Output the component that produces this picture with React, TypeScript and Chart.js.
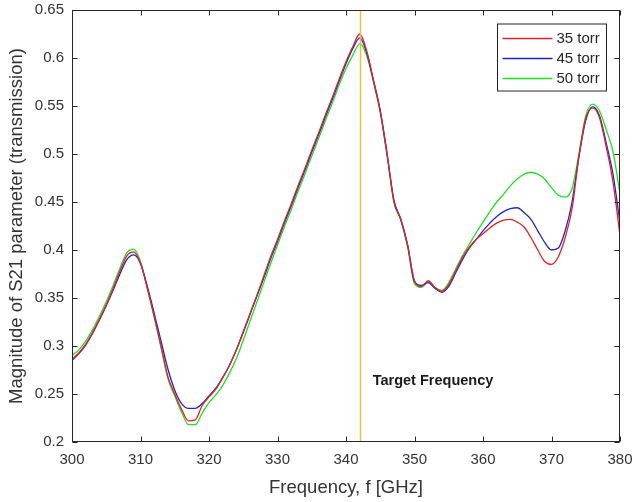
import React, { useEffect, useRef } from "react";
import { Chart, registerables } from "chart.js";

Chart.register(...registerables);

const freqs = [
  300, 301, 302, 303, 304, 305, 306, 307, 308, 309,
  310, 311, 312, 313, 314, 315, 316, 317, 318, 319,
  320, 321, 322, 323, 324, 325, 326, 327, 328, 329,
  330, 331, 332, 333, 334, 335, 336, 337, 338, 339,
  340, 341, 342, 343, 344, 345, 346, 347, 348, 349,
  350, 351, 352, 353, 354, 355, 356, 357, 358, 359,
  360, 361, 362, 363, 364, 365, 366, 367, 368, 369,
  370, 371, 372, 373, 374, 375, 376, 377, 378, 379,
  380,
];

const torr35 = [
  0.286, 0.293, 0.302, 0.314, 0.328, 0.343, 0.360, 0.378, 0.394, 0.398,
  0.386, 0.360, 0.331, 0.300, 0.268, 0.250, 0.234, 0.222, 0.223, 0.238,
  0.247, 0.255, 0.267, 0.280, 0.296, 0.315, 0.334, 0.353, 0.373, 0.393,
  0.411, 0.430, 0.448, 0.467, 0.485, 0.504, 0.522, 0.541, 0.559, 0.578,
  0.596, 0.612, 0.625, 0.608, 0.577, 0.545, 0.500, 0.450, 0.432, 0.405,
  0.368, 0.362, 0.368, 0.361, 0.357, 0.364, 0.378, 0.392, 0.403, 0.411,
  0.417, 0.423, 0.428, 0.431, 0.432, 0.429, 0.424, 0.413, 0.400, 0.388,
  0.385, 0.393, 0.413, 0.443, 0.497, 0.537, 0.548, 0.538, 0.507, 0.470,
  0.415,
];

const torr45 = [
  0.285, 0.292, 0.301, 0.313, 0.327, 0.342, 0.358, 0.375, 0.390, 0.395,
  0.386, 0.362, 0.334, 0.305, 0.276, 0.254, 0.240, 0.235, 0.235, 0.240,
  0.248, 0.256, 0.267, 0.280, 0.296, 0.314, 0.333, 0.352, 0.371, 0.391,
  0.409, 0.428, 0.446, 0.465, 0.483, 0.502, 0.520, 0.539, 0.557, 0.576,
  0.594, 0.610, 0.621, 0.606, 0.577, 0.545, 0.500, 0.452, 0.432, 0.405,
  0.367, 0.363, 0.366, 0.360, 0.356, 0.362, 0.376, 0.390, 0.402, 0.411,
  0.420, 0.428, 0.435, 0.440, 0.443, 0.444, 0.439, 0.432, 0.420, 0.408,
  0.400, 0.402, 0.420, 0.450, 0.497, 0.535, 0.549, 0.540, 0.511, 0.478,
  0.428,
];

const torr50 = [
  0.290, 0.296, 0.305, 0.317, 0.331, 0.346, 0.363, 0.381, 0.397, 0.401,
  0.388, 0.360, 0.330, 0.298, 0.266, 0.248, 0.231, 0.218, 0.218, 0.230,
  0.241, 0.249, 0.259, 0.272, 0.287, 0.306, 0.326, 0.346, 0.366, 0.386,
  0.405, 0.424, 0.442, 0.461, 0.479, 0.498, 0.516, 0.535, 0.553, 0.572,
  0.589, 0.603, 0.615, 0.603, 0.575, 0.543, 0.498, 0.450, 0.431, 0.403,
  0.365, 0.361, 0.367, 0.361, 0.358, 0.366, 0.380, 0.394, 0.406, 0.418,
  0.429, 0.440, 0.450, 0.458, 0.467, 0.474, 0.479, 0.481, 0.479, 0.474,
  0.465, 0.457, 0.455, 0.464, 0.500, 0.540, 0.552, 0.545, 0.525, 0.502,
  0.458,
];

const seriesLabels = ["35 torr", "45 torr", "50 torr"];
const seriesColors = ["#e0232a", "#2323c8", "#1fe01f"];

const xTicks = [300, 310, 320, 330, 340, 350, 360, 370, 380];
const yTicks = [0.2, 0.25, 0.3, 0.35, 0.4, 0.45, 0.5, 0.55, 0.6, 0.65];

const targetFreq = 342;
const targetLabel = "Target Frequency";
const targetLabelAt = [343.9, 0.2635];
const xTitle = "Frequency, f [GHz]";
const yTitle = "Magnitude of S21 parameter (transmission)";

const FONT = "'Liberation Sans', Arial, Helvetica, sans-serif";

const framePlugin = {
  id: "matlabFrame",
  afterDatasetsDraw(chart: any) {
    const { ctx, chartArea: a, scales } = chart;
    const x = scales.x;
    const y = scales.y;
    ctx.save();

    // target frequency line
    const tx = Math.round(x.getPixelForValue(targetFreq)) + 0.5;
    ctx.strokeStyle = "#ebc13c";
    ctx.lineWidth = 1.5;
    ctx.beginPath();
    ctx.moveTo(tx, a.top);
    ctx.lineTo(tx, a.bottom);
    ctx.stroke();

    // label
    ctx.fillStyle = "#1a1a1a";
    ctx.font = "bold 14.5px " + FONT;
    ctx.textAlign = "left";
    ctx.textBaseline = "middle";
    ctx.fillText(
      targetLabel,
      x.getPixelForValue(targetLabelAt[0]),
      y.getPixelForValue(targetLabelAt[1])
    );

    // box
    ctx.strokeStyle = "#262626";
    ctx.lineWidth = 1;
    const L = Math.round(a.left) + 0.5;
    const R = Math.round(a.right) - 0.5;
    const T = Math.round(a.top) + 0.5;
    const B = Math.round(a.bottom) - 0.5;
    ctx.strokeRect(L, T, R - L, B - T);

    // inward ticks
    const tl = 5;
    ctx.beginPath();
    xTicks.forEach((v) => {
      const px = Math.round(x.getPixelForValue(v)) + 0.5;
      ctx.moveTo(px, B);
      ctx.lineTo(px, B - tl);
      ctx.moveTo(px, T);
      ctx.lineTo(px, T + tl);
    });
    yTicks.forEach((v) => {
      const py = Math.round(y.getPixelForValue(v)) + 0.5;
      ctx.moveTo(L, py);
      ctx.lineTo(L + tl, py);
      ctx.moveTo(R, py);
      ctx.lineTo(R - tl, py);
    });
    ctx.stroke();

    // legend
    const lx = R - 122;
    const ly = T + 13.5;
    const lw = 109;
    const lh = 67;
    ctx.fillStyle = "#ffffff";
    ctx.fillRect(lx, ly, lw, lh);
    ctx.strokeStyle = "#262626";
    ctx.strokeRect(lx, ly, lw, lh);
    ctx.font = "15px " + FONT;
    ctx.textBaseline = "middle";
    chart.data.datasets.forEach((ds: any, i: number) => {
      const cy = Math.round(ly + 14 + i * 20) + 0.5;
      ctx.strokeStyle = ds.borderColor;
      ctx.lineWidth = 1.3;
      ctx.beginPath();
      ctx.moveTo(lx + 5, cy);
      ctx.lineTo(lx + 55, cy);
      ctx.stroke();
      ctx.fillStyle = "#262626";
      ctx.fillText(ds.label, lx + 59, cy);
    });

    ctx.restore();
  },
};

export default function App() {
  const ref = useRef<HTMLCanvasElement | null>(null);

  useEffect(() => {
    if (!ref.current) return;
    const series = [torr35, torr45, torr50];
    const chart = new Chart(ref.current, {
      type: "line",
      data: {
        datasets: series.map((vals, i) => ({
          label: seriesLabels[i],
          data: freqs.map((f, j) => ({ x: f, y: vals[j] })),
          borderColor: seriesColors[i],
          backgroundColor: seriesColors[i],
          borderWidth: 1.3,
          pointRadius: 0,
          cubicInterpolationMode: "monotone" as const,
          fill: false,
        })),
      },
      options: {
        responsive: false,
        animation: false,
        devicePixelRatio: 1,
        layout: { padding: { top: 10, right: 15, left: 0, bottom: 0 } },
        plugins: {
          legend: { display: false },
          tooltip: { enabled: false },
        },
        scales: {
          x: {
            type: "linear",
            min: 300,
            max: 380,
            afterFit: (s: any) => {
              s.height = 60;
              s.paddingLeft = 0;
              s.paddingRight = 0;
            },
            afterBuildTicks: (s: any) => {
              s.ticks = xTicks.map((v) => ({ value: v }));
            },
            grid: { display: false, drawTicks: false },
            border: { display: false },
            ticks: {
              padding: 9,
              color: "#333",
              font: { family: FONT, size: 15 },
              maxRotation: 0,
              callback: (v: any) => String(v),
            },
            title: {
              display: true,
              text: xTitle,
              color: "#333",
              font: { family: FONT, size: 18.5 },
              padding: { top: 0, bottom: 3 },
            },
          },
          y: {
            type: "linear",
            min: 0.2,
            max: 0.65,
            afterFit: (s: any) => {
              s.width = 72;
              s.paddingTop = 0;
              s.paddingBottom = 0;
            },
            afterBuildTicks: (s: any) => {
              s.ticks = yTicks.map((v) => ({ value: v }));
            },
            grid: { display: false, drawTicks: false },
            border: { display: false },
            ticks: {
              padding: 8,
              color: "#333",
              font: { family: FONT, size: 15 },
              callback: (v: any) => String(Number(Number(v).toFixed(2))),
            },
            title: {
              display: true,
              text: yTitle,
              color: "#333",
              font: { family: FONT, size: 18.5 },
              padding: { top: 6, bottom: 0 },
            },
          },
        },
      },
      plugins: [framePlugin],
    });
    return () => chart.destroy();
  }, []);

  return (
    <div style={{ position: "absolute", left: 0, top: 0, width: 635, height: 502, background: "#fff" }}>
      <canvas ref={ref} width={635} height={502} style={{ width: 635, height: 502 }} />
    </div>
  );
}
